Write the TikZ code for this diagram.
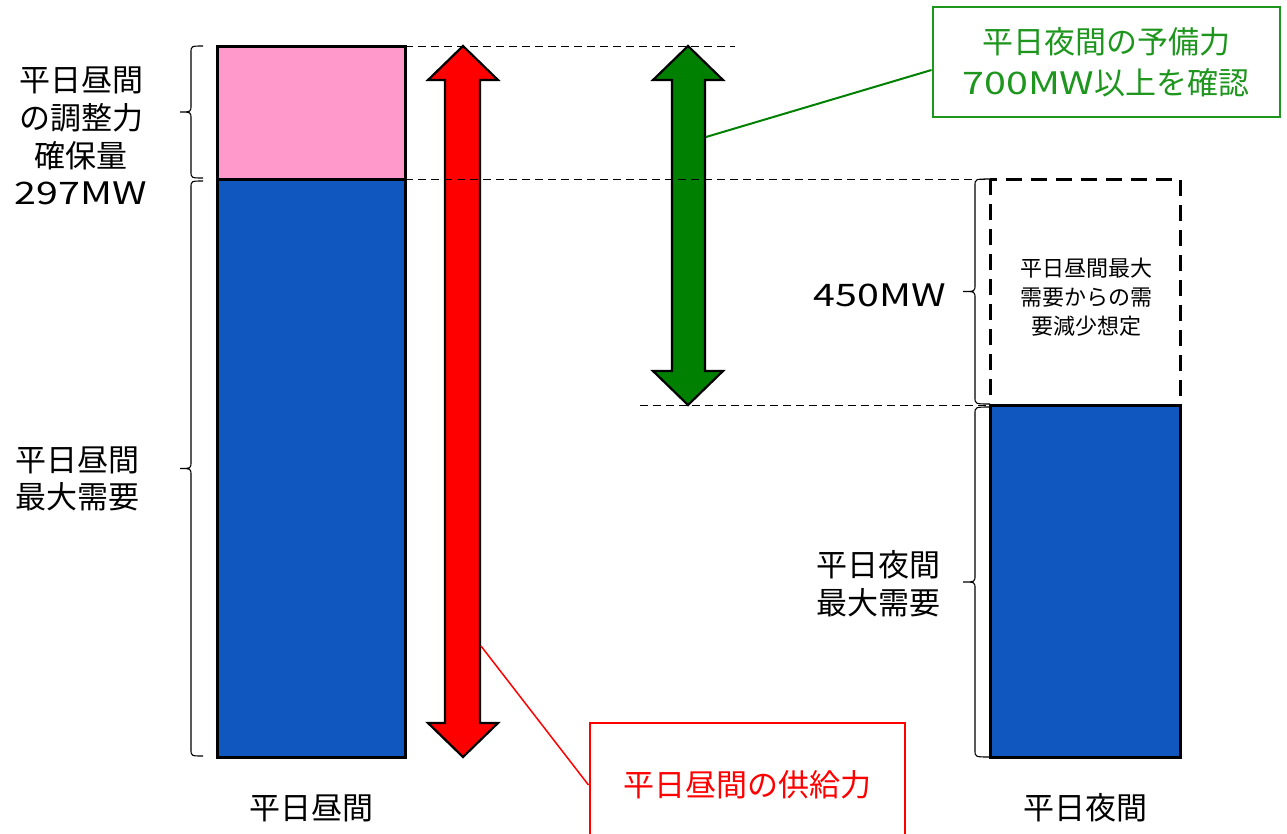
\documentclass[tikz,border=0pt]{standalone}
\usepackage{fontspec}
\setmainfont{Noto Sans CJK JP}
\newfontfamily\widelat[FakeStretch=1.27]{Noto Sans CJK JP}
\definecolor{pinkbar}{HTML}{FF99CC}
\definecolor{bluebar}{HTML}{1157C0}
\definecolor{arrowgreen}{HTML}{008000}
\definecolor{boxgreen}{HTML}{1E961E}
% #1 end x, #2 spine x, #3 tip x, #4 top y, #5 bottom y
\newcommand\curlybr[5]{%
  \pgfmathsetmacro\bmid{(#4+#5)/2}%
  \draw[bracestyle] (#1,#4) .. controls (#2,#4) .. (#2,#4+7)
    -- (#2,\bmid-7) .. controls (#2,\bmid) .. (#3,\bmid)
    .. controls (#2,\bmid) .. (#2,\bmid+7)
    -- (#2,#5-7) .. controls (#2,#5) .. (#1,#5);}
\begin{document}
\begin{tikzpicture}[x=1pt,y=-1pt,
  bar/.style={draw=black, line width=3pt},
  arrowshape/.style={draw=black, line width=2.2pt, line join=miter},
  guide/.style={draw=black, line width=1pt, dash pattern=on 8pt off 5pt},
  bracestyle/.style={draw=black, line width=1.1pt},
  lbl/.style={font=\fontsize{31}{37.7}\selectfont, align=center, inner sep=0pt},
  smalllbl/.style={font=\fontsize{22}{29}\selectfont, align=center, inner sep=0pt},
  callout/.style={draw=#1, line width=2pt, text=#1, align=center, font=\fontsize{31}{41}\selectfont}
]
\useasboundingbox (0,0) rectangle (1287,833);
\clip (0,0) rectangle (1287,833);

% bars
\draw[bar, fill=pinkbar] (217,46) rectangle (405,179);
\draw[bar, fill=bluebar] (217,179) rectangle (405,757);
\draw[bar, fill=bluebar] (990,405) rectangle (1180,757);
\draw[line width=3pt, dash pattern=on 16pt off 9pt] (990,179) rectangle (1180,405);

% braces
\curlybr{203}{191}{180}{46}{178}
\curlybr{203}{191}{180}{181}{756}
\curlybr{990}{975}{963}{179}{404}
\curlybr{990}{975}{963}{407}{757}

% arrows
\draw[arrowshape, fill=red] (463,46) -- (498,80) -- (480,80) -- (480,723) -- (498,723) -- (463,757) -- (428,723) -- (445,723) -- (445,80) -- (428,80) -- cycle;
\draw[arrowshape, fill=arrowgreen] (688,46) -- (723,80) -- (705,80) -- (705,371) -- (723,371) -- (688,405) -- (653,371) -- (672,371) -- (672,80) -- (653,80) -- cycle;

% guide lines
\draw[guide] (405,46) -- (735,46);
\draw[guide] (405,179) -- (990,179);
\draw[guide] (640,405) -- (990,405);

% labels
\node[lbl] (lres) at (81,136) {平日昼間\\の調整力\\確保量\\{\widelat 297MW}};
\node[lbl] (ldem) at (77,479) {平日昼間\\最大需要};
\node[lbl] (r450) at (880,295) {\widelat 450MW};
\node[lbl] (rdem) at (878,584) {平日夜間\\最大需要};
\node[lbl] (day) at (311,808) {平日昼間};
\node[lbl] (night) at (1085,808) {平日夜間};
\node[smalllbl] (dec) at (1086,297) {平日昼間最大\\需要からの需\\要減少想定};

% callouts
\node[callout=boxgreen, minimum width=347pt, minimum height=110pt] (gbox) at (1106,62) {平日夜間の予備力\\{\widelat 700MW}以上を確認};
\node[callout=red, minimum width=315pt, minimum height=124pt] (rbox) at (747,785) {平日昼間の供給力};
\coordinate (gtip) at (706,137);
\coordinate (rtip) at (481,646);
\draw[draw=arrowgreen, line width=2pt] (gtip) -- ([yshift=-8pt]gbox.west);
\draw[draw=red, line width=1.5pt] (rtip) -- (rbox.west);
\end{tikzpicture}
\end{document}
